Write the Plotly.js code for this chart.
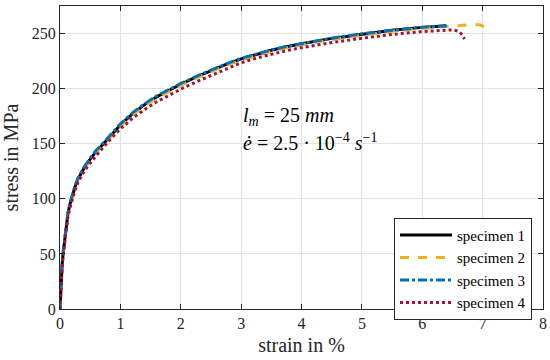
<!DOCTYPE html>
<html>
<head>
<meta charset="utf-8">
<script src="https://cdn.plot.ly/plotly-3.0.1.min.js"></script>
<style>html,body{margin:0;padding:0;background:#fff}#chart{width:550px;height:360px}</style>
</head>
<body>
<div id="chart"></div>
<script>
var seriesNames = ["specimen 1", "specimen 2", "specimen 3", "specimen 4"];

var strain1 = [0, 0.01, 0.02, 0.035, 0.055, 0.075, 0.1, 0.13, 0.16, 0.2, 0.25, 0.3, 0.4, 0.5, 0.6, 0.72, 0.85, 1.0, 1.2, 1.4, 1.6, 1.8, 2.0, 2.25, 2.5, 2.75, 3.0, 3.25, 3.5, 3.75, 4.0, 4.5, 5.0, 5.5, 6.0, 6.2, 6.4];
var stress1 = [0, 13, 27, 40, 52, 62, 74, 86, 94, 102, 111, 118, 128, 136, 143, 150, 158, 167, 177, 185.5, 192.5, 198.5, 204, 210.5, 216.5, 222, 227, 231.2, 234.8, 238, 240.8, 245.6, 249.6, 253, 255.6, 256.4, 257];

var strain2 = [0, 0.01, 0.02, 0.035, 0.055, 0.075, 0.1, 0.13, 0.16, 0.2, 0.25, 0.3, 0.4, 0.5, 0.6, 0.72, 0.85, 1.0, 1.2, 1.4, 1.6, 1.8, 2.0, 2.25, 2.5, 2.75, 3.0, 3.25, 3.5, 3.75, 4.0, 4.5, 5.0, 5.5, 6.0, 6.2, 6.4, 6.6, 6.8, 6.95, 7.05, 7.12];
var stress2 = [0, 13, 26.5, 39.5, 51.5, 61.5, 73.5, 85, 93, 101, 110, 117, 127, 135, 142, 149, 157, 166, 176, 184.5, 191.5, 197.5, 203, 209.5, 215.5, 221, 226, 230.2, 233.8, 237, 239.8, 244.6, 248.6, 252, 254.8, 255.7, 256.4, 257.3, 258, 258, 256, 254];

var strain3 = [0, 0.01, 0.02, 0.035, 0.055, 0.075, 0.1, 0.13, 0.16, 0.2, 0.25, 0.3, 0.4, 0.5, 0.6, 0.72, 0.85, 1.0, 1.2, 1.4, 1.6, 1.8, 2.0, 2.25, 2.5, 2.75, 3.0, 3.25, 3.5, 3.75, 4.0, 4.5, 5.0, 5.5, 6.0, 6.2, 6.43];
var stress3 = [0, 13.5, 27.5, 41, 53, 63, 75, 87, 95, 103, 112, 119, 129, 137, 144, 151, 159, 168, 178, 186.3, 193.3, 199.3, 204.7, 211, 217, 222.5, 227.5, 231.6, 235.2, 238.3, 241, 245.8, 249.8, 253.1, 255.8, 256.5, 257];

var strain4 = [0, 0.01, 0.02, 0.035, 0.055, 0.075, 0.1, 0.13, 0.16, 0.2, 0.25, 0.3, 0.4, 0.5, 0.6, 0.72, 0.85, 1.0, 1.2, 1.4, 1.6, 1.8, 2.0, 2.25, 2.5, 2.75, 3.0, 3.25, 3.5, 3.75, 4.0, 4.5, 5.0, 5.5, 6.0, 6.3, 6.5, 6.6, 6.66, 6.7];
var stress4 = [0, 12, 25, 38, 50, 60, 71, 83, 91, 99, 108, 115, 125, 132.5, 139.5, 147, 155, 163.5, 173, 181, 188, 194, 199.5, 206, 212, 218, 223.5, 227.7, 231.3, 234.5, 237.2, 241.8, 245.7, 249.2, 251.8, 252.8, 253.3, 252.2, 249, 245];

var xTicks = [0, 1, 2, 3, 4, 5, 6, 7, 8];
var yTicks = [0, 50, 100, 150, 200, 250];

var serif = "Liberation Serif";
var axisColor = "#262626";

var traces = [
  {x: strain1, y: stress1, name: seriesNames[0], mode: "lines", line: {color: "#000000", width: 3, dash: "solid"}},
  {x: strain2, y: stress2, name: seriesNames[1], mode: "lines", line: {color: "#EDB120", width: 3, dash: "dash"}},
  {x: strain3, y: stress3, name: seriesNames[2], mode: "lines", line: {color: "#0072BD", width: 3, dash: "dashdot"}},
  {x: strain4, y: stress4, name: seriesNames[3], mode: "lines", line: {color: "#A2142F", width: 3, dash: "dot"}}
];

var layout = {
  width: 550, height: 360,
  margin: {l: 60, r: 7, t: 6, b: 51},
  paper_bgcolor: "#fff", plot_bgcolor: "#fff",
  font: {family: serif, color: axisColor, size: 16},
  showlegend: true,
  xaxis: {
    range: [0, 8], tickvals: xTicks, ticktext: xTicks.map(String),
    showgrid: true, gridcolor: "#e3e3e3", gridwidth: 1,
    zeroline: false, showline: true, linecolor: axisColor, linewidth: 1, mirror: "ticks",
    ticks: "inside", ticklen: 5, tickcolor: axisColor,
    tickfont: {family: serif, size: 16, color: axisColor},
    title: {text: "strain in %", font: {family: serif, size: 20, color: axisColor}, standoff: 6}
  },
  yaxis: {
    range: [0, 275], tickvals: yTicks, ticktext: yTicks.map(String),
    showgrid: true, gridcolor: "#e3e3e3", gridwidth: 1,
    zeroline: false, showline: true, linecolor: axisColor, linewidth: 1, mirror: "ticks",
    ticks: "inside", ticklen: 5, tickcolor: axisColor,
    tickfont: {family: serif, size: 16, color: axisColor},
    title: {text: "stress in MPa", font: {family: serif, size: 20, color: axisColor}, standoff: 8}
  },
  legend: {
    x: 0.6915, y: 0.301, xanchor: "left", yanchor: "top",
    bgcolor: "#fff", bordercolor: axisColor, borderwidth: 1,
    font: {family: serif, size: 15, color: "#000"},
    itemwidth: 52, tracegroupgap: 0
  },
  annotations: [
    {xref: "x", yref: "y", x: 3.0, y: 175, xanchor: "left", yanchor: "middle", showarrow: false,
     text: "<i>l</i><sub><i>m</i></sub> = 25 <i>mm</i>", font: {family: serif, size: 20, color: "#000"}},
    {xref: "x", yref: "y", x: 3.0, y: 152, xanchor: "left", yanchor: "middle", showarrow: false,
     text: "<i>ė</i> = 2.5 · 10<sup>−4</sup> <i>s</i><sup>−1</sup>", font: {family: serif, size: 20, color: "#000"}}
  ]
};

Plotly.newPlot("chart", traces, layout, {displayModeBar: false, staticPlot: true});
</script>
</body>
</html>
